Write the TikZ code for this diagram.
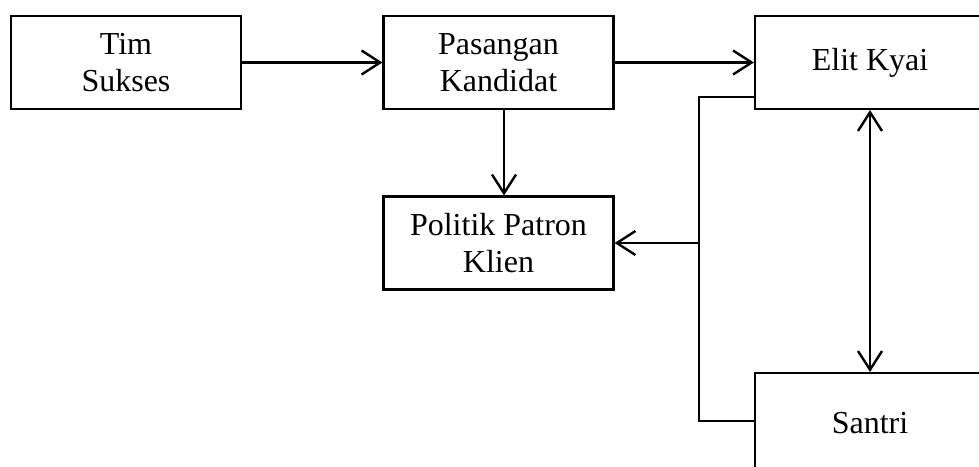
\documentclass[tikz,border=0pt]{standalone}
\usepackage{fontspec}
\setmainfont{Liberation Serif}
\usetikzlibrary{arrows.meta}
\tikzset{
  box/.style={draw, line width=0.8pt, minimum width=230*0.375pt, minimum height=93*0.375pt, inner sep=0pt, align=center, font=\fontsize{12}{13.8}\selectfont},
  conn/.style={line width=0.9pt},
  arr/.style={conn, -{Straight Barb[length=7pt,width=9pt,line width=0.9pt]}},
  darr/.style={conn, {Straight Barb[length=7pt,width=9pt,line width=0.9pt]}-{Straight Barb[length=7pt,width=9pt,line width=0.9pt]}}
}
\begin{document}
\begin{tikzpicture}[x=0.375pt, y=-0.375pt]
\useasboundingbox (0,0) rectangle (979,466);
\clip (0,0) rectangle (979,466);
\node[box] (ts) at (126,62.5) {Tim\\Sukses};
\node[box] (pk) at (498.5,62.5) {Pasangan\\Kandidat};
\node[box] (pp) at (498.5,243) {Politik Patron\\Klien};
\node[box] (ek) at (870,62.5) {Elit Kyai};
\node[box, minimum height=100*0.375pt] (sa) at (870,423) {Santri};
\coordinate (vx) at (504,0);
\coordinate (j1) at (699,97);
\coordinate (j2) at (699,243);
\coordinate (j3) at (699,421);
\draw[arr] (ts.east) -- (pk.west);
\draw[arr] (pk.east) -- (ek.west);
\draw[arr] (pk.south -| vx) -- (pp.north -| vx);
\draw[conn] (ek.west |- j1) -- (j1) -- (j3) -- (sa.west |- j3);
\draw[arr] (j2) -- (pp.east |- j2);
\draw[darr] (ek.south) -- (sa.north);
\end{tikzpicture}
\end{document}
